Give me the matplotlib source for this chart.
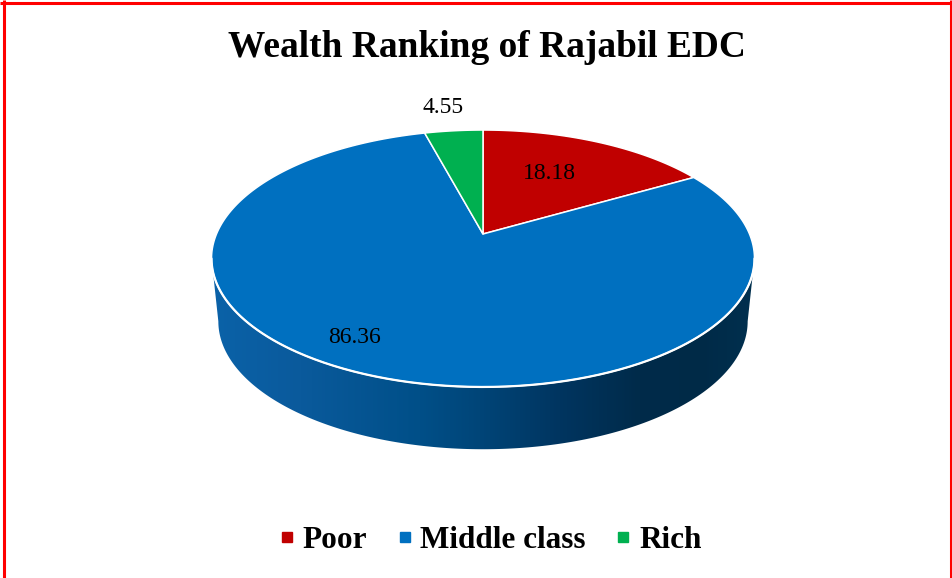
import numpy as np
import matplotlib
matplotlib.use("Agg")
import matplotlib.pyplot as plt
from matplotlib.patches import Polygon
from matplotlib.lines import Line2D
from matplotlib.colors import LinearSegmentedColormap

# ---- data ----
categories = ["Poor", "Middle class", "Rich"]
values = [18.18, 86.36, 4.55]
value_labels = ["18.18", "86.36", "4.55"]
title = "Wealth Ranking of Rajabil EDC"

# ---- style ----
colors = ["#C00000", "#0070C0", "#00B050"]
label_r = [0.63, 0.82, 1.31]          # radial position of labels
label_dang = [4.0, -8.0, 0.7]         # angular nudge of labels (deg)
label_dy = 2.5                        # pixel nudge downward
W, H = 953, 578

# perspective pie geometry (pixel space)
CX, AY, A, K, R = 483.0, 234.0, 123.8, 0.1907, 266.5
AYB, AB, RB = 297.0, 123.2, 259.8


def proj(t_deg, r=1.0, bottom=False):
    t = np.radians(np.asarray(t_deg, dtype=float))
    X = r * np.cos(t)
    Z = r * np.sin(t)
    d = 1 + K * Z
    if bottom:
        return CX + RB * X / d, AYB - AB * Z / d
    return CX + R * X / d, AY - A * Z / d


fig = plt.figure(figsize=(W / 100, H / 100), dpi=100)
ax = fig.add_axes([0, 0, 1, 1])
ax.set_xlim(0, W)
ax.set_ylim(H, 0)
ax.axis("off")

# ---- side wall ----
s = np.degrees(np.arcsin(K))
tw = np.linspace(180 + s, 360 - s, 300)
xt, yt = proj(tw)
xb, yb = proj(tw[::-1], bottom=True)
wall_pts = np.column_stack([np.concatenate([xt, xb]), np.concatenate([yt, yb])])
wall = Polygon(wall_pts, closed=True, facecolor="none", edgecolor="none")
ax.add_patch(wall)

stops_x = [212, 300, 420, 480, 560, 640, 700, 756]
stops_c = ["#0b62a8", "#0a5a9c", "#004f88", "#004578", "#003560",
           "#002b4a", "#002a47", "#00304f"]
x0, x1 = stops_x[0], stops_x[-1]
cmap = LinearSegmentedColormap.from_list(
    "wall", [((sx - x0) / (x1 - x0), c) for sx, c in zip(stops_x, stops_c)])
grad = np.linspace(0, 1, 512)[None, :]
im = ax.imshow(grad, cmap=cmap, aspect="auto",
               extent=[x0, x1, yb.max() + 2, yt.min() - 2], zorder=1,
               interpolation="bilinear")
im.set_clip_path(wall)
ax.set_xlim(0, W)
ax.set_ylim(H, 0)

# ---- top face wedges ----
total = float(np.sum(values))
angles = [v / total * 360.0 for v in values]
start = 90.0
wedge_ranges = []
for v, ang, col in zip(values, angles, colors):
    end = start - ang
    ts = np.linspace(start, end, max(int(ang * 2), 10))
    ax_, ay_ = proj(ts)
    pts = np.column_stack([np.concatenate([[CX], ax_]),
                           np.concatenate([[AY], ay_])])
    ax.add_patch(Polygon(pts, closed=True, facecolor=col, edgecolor="white",
                         linewidth=1.1, joinstyle="round", zorder=3))
    wedge_ranges.append((start, end))
    start = end

# white rim between top and wall
ax.plot(xt, yt, color="white", linewidth=1.6, zorder=4, solid_capstyle="round")

# ---- value labels ----
for (a0, a1), lab, rr, da in zip(wedge_ranges, value_labels, label_r, label_dang):
    mid = (a0 + a1) / 2 + da
    lx, ly = proj(mid, r=rr)
    ax.text(float(lx), float(ly) + label_dy, lab, ha="center", va="center",
            fontsize=17, family="Liberation Serif", color="black", zorder=5)

# ---- title (fit to width) ----
fig.canvas.draw()
renderer = fig.canvas.get_renderer()
t = ax.text(486.5, 57, title, ha="center", va="baseline",
            family="Liberation Serif", fontweight="bold", fontsize=27)
bw = t.get_window_extent(renderer).width
t.set_fontsize(27 * 517.0 / bw)

# ---- legend ----
handles = [Line2D([], [], marker="s", linestyle="none", markersize=7.5,
                  markerfacecolor=c, markeredgecolor=c) for c in colors]
leg = fig.legend(handles, categories, loc="center", ncol=3, frameon=False,
                 bbox_to_anchor=(490.5 / W, 1 - 540 / H),
                 prop={"family": "Liberation Serif", "weight": "bold", "size": 22.5},
                 handlelength=0.5, handletextpad=0.25, columnspacing=0.95,
                 borderpad=0)

# ---- red border ----
for (xa, ya, xb_, yb_) in [(0, 3, W, 3), (4, 0, 4, H), (951, 0, 951, H)]:
    ax.plot([xa, xb_], [ya, yb_], color="#FF0000", linewidth=2.2, zorder=6,
            solid_capstyle="butt")

fig.savefig("out.png", dpi=100)
